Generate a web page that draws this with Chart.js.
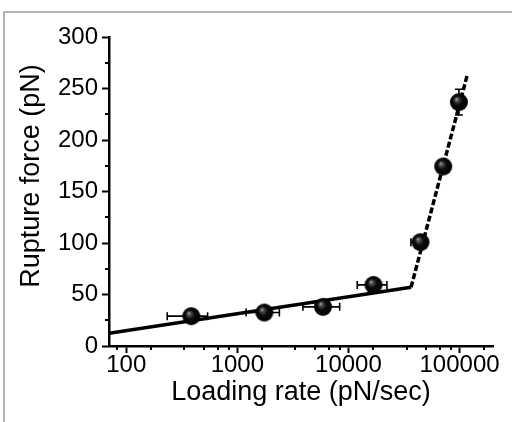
<!DOCTYPE html>
<html>
<head>
<meta charset="utf-8">
<script src="https://cdn.jsdelivr.net/npm/chart.js@4.4.0/dist/chart.umd.min.js"></script>
<style>
  html, body { margin: 0; padding: 0; background: #fff; overflow: hidden; }
  canvas { display: block; }
</style>
</head>
<body>
<canvas id="chart" width="512" height="422"></canvas>
<script>
  // measured points (loading rate in pN/sec, rupture force in pN)
  const loadingRate  = [385, 1750, 5900, 16800, 44500, 71300, 98700];
  const ruptureForce = [29, 32.5, 38, 59.3, 100.8, 174.3, 236.8];
  // horizontal error bars (low / high loading rate)
  const rateLow  = [234, 1200, 3890, 12000, 36500, 71300, 98700];
  const rateHigh = [540, 2390, 8340, 22200, 44500, 71300, 98700];
  // vertical error (+/- pN)
  const forceErr = [0, 0, 0, 0, 0, 0, 12.5];

  // two-regime fit lines
  const fitSlowX = [70, 36600];
  const fitSlowY = [12.3, 57];
  const fitFastX = [36600, 117500];
  const fitFastY = [57, 263.4];

  // axis ticks
  const xMajor = [100, 1000, 10000, 100000];
  const xMinor = [83.3, 166.7, 333.3, 500, 666.7, 833.3,
                  1667, 3333, 5000, 6667, 8333,
                  16667, 33333, 50000, 66667, 83333,
                  166667];
  const yMinor = [25, 75, 125, 175, 225, 275];

  const yTitle = 'Rupture force (pN)';
  const fontFamily = '"Liberation Sans", Arial, sans-serif';

  const toXY = (xs, ys) => xs.map((x, i) => ({ x: x, y: ys[i] }));

  function makeBall(r) {
    const c = document.createElement('canvas');
    c.width = c.height = 2 * r + 2;
    const g = c.getContext('2d');
    const cx = r + 1, cy = r + 1;
    const grad = g.createRadialGradient(cx - r * 0.3, cy - r * 0.35, 0, cx, cy, r);
    grad.addColorStop(0, '#bdbdbd');
    grad.addColorStop(0.18, '#555');
    grad.addColorStop(0.5, '#0c0c0c');
    grad.addColorStop(1, '#000');
    g.fillStyle = grad;
    g.beginPath();
    g.arc(cx, cy, r, 0, Math.PI * 2);
    g.fill();
    return c;
  }

  // gray frame around the figure, left and top sides only
  const frame = {
    id: 'frame',
    beforeDraw(chart) {
      const c = chart.ctx;
      c.save();
      c.strokeStyle = '#b4b4b4';
      c.lineWidth = 2;
      c.beginPath();
      c.moveTo(4, chart.height); c.lineTo(4, 12); c.lineTo(chart.width, 12);
      c.stroke();
      c.restore();
    }
  };

  const errorBars = {
    id: 'errorBars',
    beforeDatasetDraw(chart, args) {
      if (args.index !== 0) return;
      const x = chart.scales.x, y = chart.scales.y, c = chart.ctx;
      c.save();
      c.strokeStyle = '#000';
      c.lineWidth = 1.6;
      loadingRate.forEach((v, i) => {
        const py = y.getPixelForValue(ruptureForce[i]);
        const px = x.getPixelForValue(v);
        const x0 = x.getPixelForValue(rateLow[i]);
        const x1 = x.getPixelForValue(rateHigh[i]);
        c.beginPath();
        if (x1 - x0 > 0.5) {
          c.moveTo(x0, py); c.lineTo(x1, py);
          c.moveTo(x0, py - 4); c.lineTo(x0, py + 4);
          c.moveTo(x1, py - 4); c.lineTo(x1, py + 4);
        }
        if (forceErr[i] > 0) {
          const y0 = y.getPixelForValue(ruptureForce[i] - forceErr[i]);
          const y1 = y.getPixelForValue(ruptureForce[i] + forceErr[i]);
          c.moveTo(px, y0); c.lineTo(px, y1);
          c.moveTo(px - 4, y0); c.lineTo(px + 4, y0);
          c.moveTo(px - 4, y1); c.lineTo(px + 4, y1);
        }
        c.stroke();
      });
      c.restore();
    }
  };

  const minorTicks = {
    id: 'minorTicks',
    afterDraw(chart) {
      const x = chart.scales.x, y = chart.scales.y, c = chart.ctx;
      const a = chart.chartArea;
      c.save();
      c.strokeStyle = '#000';
      c.lineWidth = 2;
      c.beginPath();
      xMinor.forEach(v => {
        const px = Math.round(x.getPixelForValue(v));
        c.moveTo(px, a.bottom); c.lineTo(px, a.bottom + 4);
      });
      yMinor.forEach(v => {
        const py = Math.round(y.getPixelForValue(v));
        c.moveTo(a.left, py); c.lineTo(a.left - 4, py);
      });
      c.stroke();
      // y axis title, sits a little above the middle of the axis
      c.translate(32, 176);
      c.rotate(-Math.PI / 2);
      c.fillStyle = '#000';
      c.font = '27px ' + fontFamily;
      c.textAlign = 'center';
      c.textBaseline = 'middle';
      c.fillText(yTitle, 0, 0);
      c.restore();
    }
  };

  Chart.defaults.font.family = fontFamily;
  Chart.defaults.color = '#000';

  new Chart(document.getElementById('chart'), {
    type: 'scatter',
    data: {
      datasets: [
        {
          data: toXY(loadingRate, ruptureForce),
          pointStyle: makeBall(9),
          pointRadius: 9,
          order: 0
        },
        {
          type: 'line',
          data: toXY(fitSlowX, fitSlowY),
          borderColor: '#000',
          borderWidth: 3.5,
          pointRadius: 0,
          order: 1
        },
        {
          type: 'line',
          data: toXY(fitFastX, fitFastY),
          borderColor: '#000',
          borderWidth: 3.5,
          borderDash: [6, 2.5],
          pointRadius: 0,
          order: 1
        }
      ]
    },
    options: {
      responsive: false,
      animation: false,
      layout: { padding: { top: 37, right: 19, left: 0, bottom: 0 } },
      plugins: { legend: { display: false }, tooltip: { enabled: false } },
      scales: {
        x: {
          type: 'logarithmic',
          min: 70,
          max: 200000,
          afterBuildTicks: s => { s.ticks = xMajor.map(v => ({ value: v })); },
          afterFit: s => { s.height = 76; },
          ticks: { callback: v => String(v), font: { size: 24 }, padding: -2, maxRotation: 0, autoSkip: false },
          grid: { drawOnChartArea: false, tickLength: 7, tickColor: '#000', tickWidth: 2 },
          border: { color: '#000', width: 2.5 },
          title: { display: true, text: 'Loading rate (pN/sec)', font: { size: 27 }, padding: { top: 0, bottom: 13 } }
        },
        y: {
          min: 0,
          max: 300,
          afterFit: s => { s.width = 109; },
          ticks: { stepSize: 50, font: { size: 24 }, padding: 4 },
          grid: { drawOnChartArea: false, tickLength: 7, tickColor: '#000', tickWidth: 2 },
          border: { color: '#000', width: 2.5 }
        }
      }
    },
    plugins: [frame, errorBars, minorTicks]
  });
</script>
</body>
</html>
